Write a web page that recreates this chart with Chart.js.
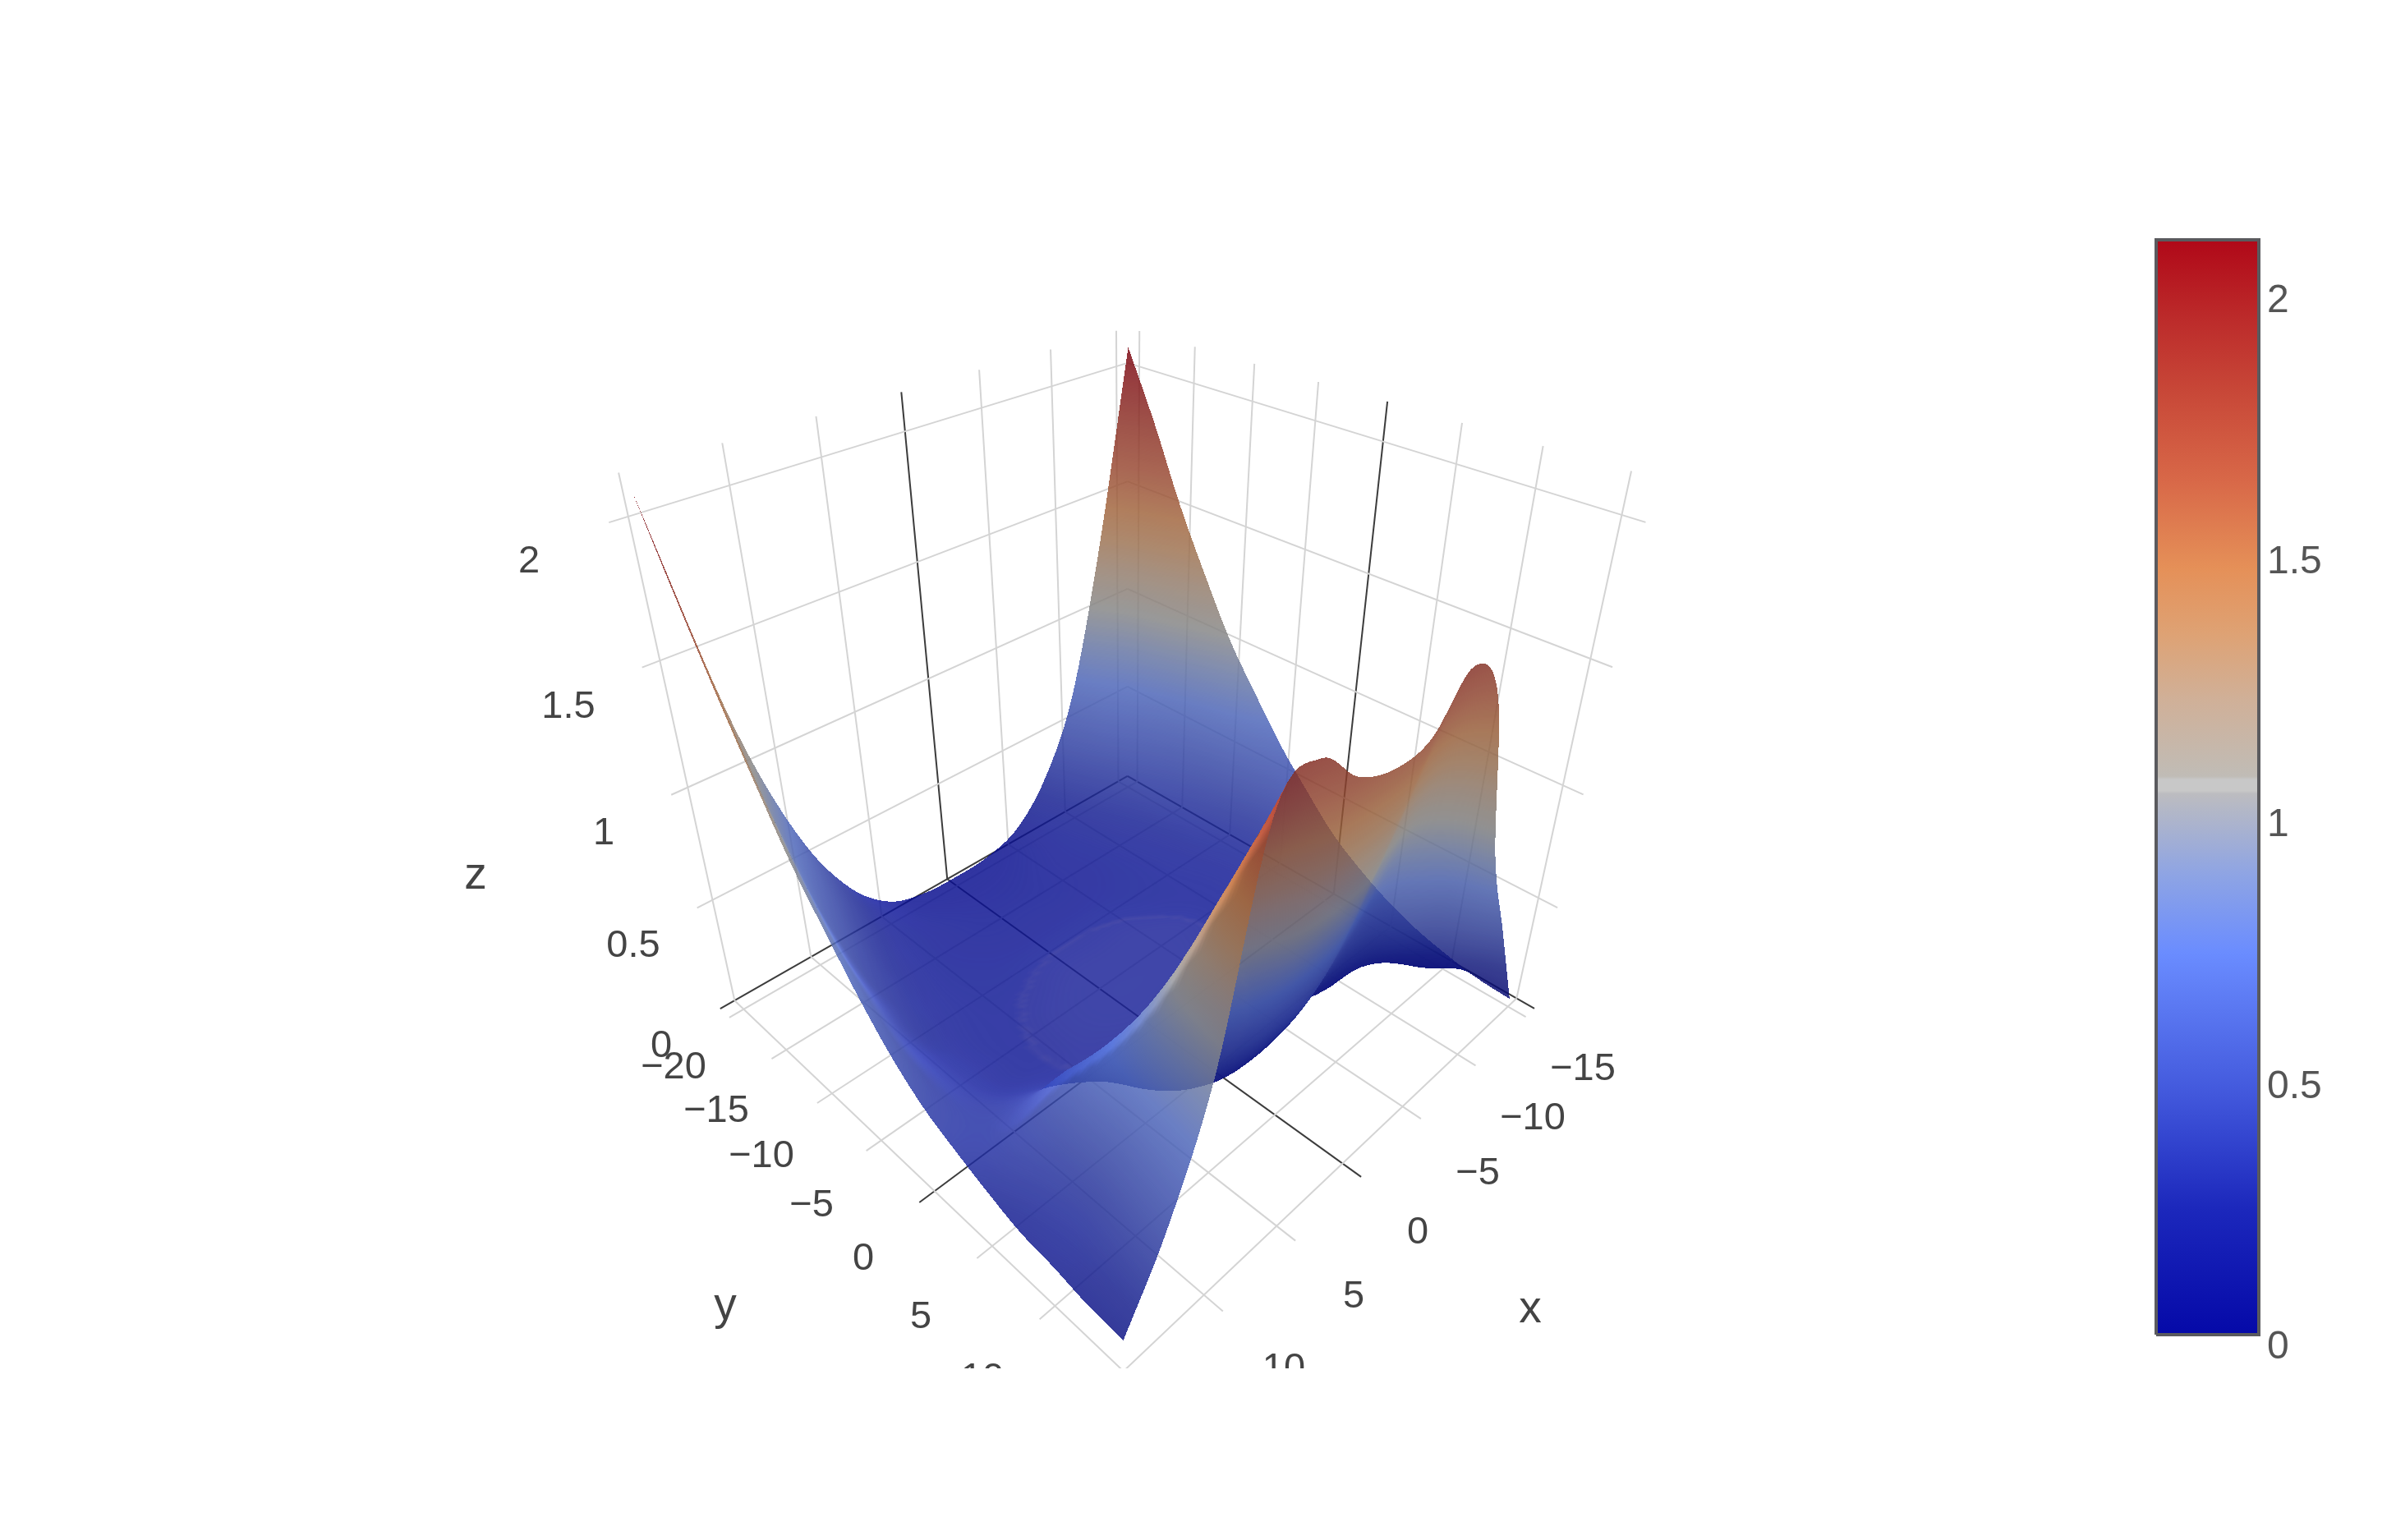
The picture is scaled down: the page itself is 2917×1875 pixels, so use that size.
<!DOCTYPE html>
<html><head><meta charset="utf-8">
<style>html,body{margin:0;padding:0;background:#fff}canvas{display:block}</style>
<script src="https://cdn.jsdelivr.net/npm/chart.js@4/dist/chart.umd.min.js"></script>
</head><body><canvas id="c" width="2917" height="1666"></canvas>
<script>
const xValues=[-15,-12.5,-10,-7.5,-5,-2.5,0,2.5,5,7.5,10,12.5,15];
const yValues=[-20,-17.5,-15,-12.5,-10,-7.5,-5,-2.5,0,2.5,5,7.5,10,12.5,15];
const zRows=[
[2.09,1.28,.64,.30,.12,.06,.05,.06,.12,.30,.64,1.21,2.10],
[1.82,.95,.50,.24,.13,.09,.08,.09,.13,.24,.50,.95,1.80],
[1.52,.75,.38,.20,.14,.11,.10,.11,.14,.20,.38,.75,1.52],
[1.26,.58,.30,.18,.14,.12,.12,.12,.14,.18,.30,.58,1.26],
[1.02,.46,.25,.17,.15,.14,.14,.14,.15,.17,.25,.46,1.02],
[.83,.38,.22,.17,.16,.17,.17,.17,.16,.17,.22,.38,.83],
[.65,.32,.20,.17,.18,.20,.20,.20,.18,.17,.20,.32,.65],
[.50,.30,.20,.17,.20,.22,.22,.22,.20,.17,.20,.30,.50],
[.36,.28,.22,.16,.18,.21,.22,.22,.20,.18,.21,.30,.39],
[.26,.25,.26,.12,.12,.14,.16,.18,.18,.23,.32,.33,.32],
[.18,.20,.30,.10,.07,.06,.07,.10,.17,.37,.53,.39,.26],
[.12,.12,.16,.18,.22,.16,.14,.18,.33,.69,.69,.38,.21],
[.08,.12,.35,.70,.62,.48,.45,.50,.70,1.03,.78,.37,.19],
[.05,.28,.75,1.20,1.20,1.00,.95,1.00,1.25,1.39,.86,.42,.16],
[.04,.48,.92,1.60,1.78,1.62,1.60,1.66,1.80,1.72,.95,.48,.15]
];
const xTicks=[-15,-10,-5,0,5,10,15];
const yTicks=[-20,-15,-10,-5,0,5,10,15];
const zTicks=[0,0.5,1,1.5,2];
const xTickLabels=['−15','−10','−5','0','5','10'];
const yTickLabels=['−20','−15','−10','−5','0','5','10'];
const zTickLabels=['0','0.5','1','1.5','2'];
const colorbarLabels=['0','0.5','1','1.5','2'];
const colorStops=[[0,'#0509a8'],[.116,'#1c28bc'],[.22,'#4258dc'],[.348,'#6a8cff'],[.42,'#8ea4e4'],[.50,'#bcbcbc'],[.58,'#d0b098'],[.64,'#dea274'],[.70,'#e59058'],[.78,'#d86848'],[.86,'#c84838'],[.93,'#bc2a2a'],[1,'#b00818']];
const colorbarBand=[[.494,'#bcbcc0'],[.497,'#c8c8c8'],[.507,'#c8c8c8'],[.51,'#c0bcb6']];
const crater={x:.7,y:-.8,r:6.5};

/* camera */
const xBox=[-15.9,15.9],yBox=[-21.12,16.31],zBox=[0,2.14];
function project(x,y,z){
  const a=x*.03147,b=-.47+(y+20)*.02671,c=z/2.12-.5;
  const s=a+b,q=a-b,W=1-.293*s-.2568*c;
  return {x:1372.5-559.1*q/W,y:(950+42.5*s-871.5*c)/W,w:W};
}
function seg(p,q,color,width){
  const A=project(...p),B=project(...q);
  return {type:'scatter',showLine:true,pointRadius:0,borderColor:color,borderWidth:width,data:[{x:A.x,y:A.y},{x:B.x,y:B.y}],clip:false};
}
const GRID='rgb(212,212,212)',ZERO='rgb(60,60,60)';
const lineSets=[];
const col=v=>v===0?ZERO:GRID,wid=()=>2;
[false,true].forEach(zero=>{
  xTicks.filter(v=>(v===0)===zero).forEach(v=>{
    lineSets.push(seg([v,yBox[0],0],[v,yBox[1],0],col(v),wid(v)));
    lineSets.push(seg([v,yBox[0],0],[v,yBox[0],zBox[1]],col(v),wid(v)));
  });
  yTicks.filter(v=>(v===0)===zero).forEach(v=>{
    lineSets.push(seg([xBox[0],v,0],[xBox[1],v,0],col(v),wid(v)));
    lineSets.push(seg([xBox[0],v,0],[xBox[0],v,zBox[1]],col(v),wid(v)));
  });
  zTicks.filter(v=>(v===0)===zero).forEach(v=>{
    lineSets.push(seg([xBox[0],yBox[0],v],[xBox[1],yBox[0],v],col(v),wid(v)));
    lineSets.push(seg([xBox[0],yBox[0],v],[xBox[0],yBox[1],v],col(v),wid(v)));
  });
});
/* surface nodes */
const nodeData=[];
yValues.forEach((y,j)=>xValues.forEach((x,i)=>{const P=project(x,y,zRows[j][i]);nodeData.push({x:P.x,y:P.y});}));

const CB={l:2625,r:2750,t:292,b:1625,zmax:2.085};
function cr(p0,p1,p2,p3,t){return .5*((2*p1)+(-p0+p2)*t+(2*p0-5*p1+4*p2-p3)*t*t+(-p0+3*p1-3*p2+p3)*t*t*t);}
function rowAt(j){const n=yValues.length;return j<0?zRows[0].map((v,i)=>2*v-zRows[1][i]):j>=n?zRows[n-1].map((v,i)=>2*v-zRows[n-2][i]):zRows[j];}
function sample(u,v){
  const nx=xValues.length,ny=yValues.length;
  const j=Math.min(ny-2,Math.floor(v)),tv=v-j,i=Math.min(nx-2,Math.floor(u)),tu=u-i;
  const ro=k=>{const r=rowAt(k);const g=m=>m<0?2*r[0]-r[1]:m>=nx?2*r[nx-1]-r[nx-2]:r[m];return cr(g(i-1),g(i),g(i+1),g(i+2),tu);};
  return cr(ro(j-1),ro(j),ro(j+1),ro(j+2),tv);
}
function buildLUT(){
  const cv=document.createElement('canvas');cv.width=1024;cv.height=1;const g=cv.getContext('2d',{willReadFrequently:true});
  const gr=g.createLinearGradient(0,0,1024,0);colorStops.forEach(s=>gr.addColorStop(s[0],s[1]));g.fillStyle=gr;g.fillRect(0,0,1024,1);
  return g.getImageData(0,0,1024,1).data;
}
const clamp=(v,a,b)=>Math.max(a,Math.min(b,v));
const surfacePlugin={id:'surface',
 afterDatasetsDraw(chart){
  const X=chart.scales.x,Y=chart.scales.y,ctx=chart.ctx,lut=buildLUT();
  const N=8,nx=(xValues.length-1)*N+1,ny=(yValues.length-1)*N+1;
  const vx=new Float32Array(nx*ny),vy=new Float32Array(nx*ny),vz=new Float32Array(nx*ny),vw=new Float32Array(nx*ny),vf=new Float32Array(nx*ny),vl=new Float32Array(nx*ny);
  for(let j=0;j<ny;j++)for(let i=0;i<nx;i++){
    const u=i/N,v=j/N,z=Math.max(0.005,sample(u,v)),x=xValues[0]+u*2.5,y=yValues[0]+v*2.5,P=project(x,y,z),k=j*nx+i;
    vx[k]=X.getPixelForValue(P.x);vy[k]=Y.getPixelForValue(P.y);vz[k]=z;vw[k]=P.w;
  }
  for(let j=0;j<ny;j++)for(let i=0;i<nx;i++){
    const k=j*nx+i,i0=Math.max(0,i-1),i1=Math.min(nx-1,i+1),j0=Math.max(0,j-1),j1=Math.min(ny-1,j+1);
    const dzx=(vz[j*nx+i1]-vz[j*nx+i0])/2.12/((i1-i0)/N*2.5*.03147);
    const dzy=(vz[j1*nx+i]-vz[j0*nx+i])/2.12/((j1-j0)/N*2.5*.02671);
    const l=Math.hypot(dzx,dzy,1),nX=-dzx/l,nY=-dzy/l,nZ=1/l;
    const w=clamp((-3*nY-(nX>0?2:1.1)*nX)*2,0,1);
    vf[k]=nZ*.82+(1-nZ)*(.68+.36*w);
    const x=xValues[0]+i/N*2.5,y=yValues[0]+j/N*2.5,r=Math.hypot(x-crater.x,y-crater.y);
    vl[k]=(r<crater.r?6:0)+(Math.abs(r-crater.r)<.2?9:0);
  }
  const cells=[];
  for(let j=0;j<ny-1;j++)for(let i=0;i<nx-1;i++){const k=j*nx+i;cells.push([k,(vw[k]+vw[k+1]+vw[k+nx]+vw[k+nx+1])]);}
  cells.sort((a,b)=>b[1]-a[1]);
  const ox=650,oy=350,W=1350,H=1316,buf=new Float32Array(W*H*4),alpha=.84,zs=1023/CB.zmax;
  function tri(a,b,c){
    const ax=vx[a]-ox,ay=vy[a]-oy,bx=vx[b]-ox,by=vy[b]-oy,cx=vx[c]-ox,cy=vy[c]-oy;
    const area=(bx-ax)*(cy-ay)-(by-ay)*(cx-ax);if(Math.abs(area)<1e-6)return;
    const back=area>0;
    const x0=Math.max(0,Math.floor(Math.min(ax,bx,cx))),x1=Math.min(W-1,Math.ceil(Math.max(ax,bx,cx)));
    const y0=Math.max(0,Math.floor(Math.min(ay,by,cy))),y1=Math.min(H-1,Math.ceil(Math.max(ay,by,cy)));
    for(let py=y0;py<=y1;py++)for(let px=x0;px<=x1;px++){
      const qx=px+.5,qy=py+.5;
      const w0=((cx-bx)*(qy-by)-(cy-by)*(qx-bx))/area,w1=((ax-cx)*(qy-cy)-(ay-cy)*(qx-cx))/area,w2=1-w0-w1;
      if(w0<0||w1<0||w2<0)continue;
      const z=w0*vz[a]+w1*vz[b]+w2*vz[c],f=back?.66:(w0*vf[a]+w1*vf[b]+w2*vf[c]),lift=back?0:(w0*vl[a]+w1*vl[b]+w2*vl[c]);
      const li=Math.max(0,Math.min(1023,Math.round(z*zs)))*4,o=(py*W+px)*4,ia=1-alpha;
      buf[o]=Math.min(255,lut[li]*f+lift)*alpha+buf[o]*ia;buf[o+1]=Math.min(255,lut[li+1]*f+lift*.7)*alpha+buf[o+1]*ia;buf[o+2]=Math.min(255,lut[li+2]*f)*alpha+buf[o+2]*ia;buf[o+3]=alpha+buf[o+3]*ia;
    }
  }
  cells.forEach(c=>{const k=c[0];tri(k,k+1,k+nx);tri(k+1,k+nx+1,k+nx);});
  const cv=document.createElement('canvas');cv.width=W;cv.height=H;const g=cv.getContext('2d'),im=g.createImageData(W,H);
  for(let o=0;o<W*H*4;o+=4){const A=buf[o+3];if(A>0){im.data[o]=buf[o]/A;im.data[o+1]=buf[o+1]/A;im.data[o+2]=buf[o+2]/A;im.data[o+3]=A*255;}}
  g.putImageData(im,0,0);
  ctx.save();ctx.drawImage(cv,ox,oy);ctx.restore();
 },
 afterDraw(chart){
  const ctx=chart.ctx,X=chart.scales.x,Y=chart.scales.y;
  ctx.save();ctx.textAlign='center';ctx.textBaseline='middle';ctx.fillStyle='#444';
  const put=(t,x,y,sz)=>{ctx.font=sz+'px "Liberation Sans"';ctx.fillText(t,X.getPixelForValue(x),Y.getPixelForValue(y)+5);};
  const xPos=[[1927,1297],[1866,1357],[1799,1424],[1726,1496],[1648,1574],[1563,1662]];
  const yPos=[[820,1295],[872,1348],[927,1403],[988,1463],[1051,1528],[1121,1599],[1196,1674]];
  const zPos=[[805,1269],[771,1147],[735,1010],[692,856],[644,679]];
  xTickLabels.forEach((t,i)=>put(t,xPos[i][0],xPos[i][1],47));
  yTickLabels.forEach((t,i)=>put(t,yPos[i][0],yPos[i][1],47));
  zTickLabels.forEach((t,i)=>put(t,zPos[i][0],zPos[i][1],47));
  put('x',1863,1590,55);put('y',883,1586,55);put('z',579,1062,55);
  ctx.fillStyle='#555';ctx.textAlign='left';
  const cPos=[1636,1319,1000,680,362];
  colorbarLabels.forEach((t,i)=>put(t,2760,cPos[i],48));
  ctx.restore();
 }};
const bar=[[CB.l,CB.b],[CB.r,CB.b],[CB.r,CB.t],[CB.l,CB.t],[CB.l,CB.b]].map(p=>({x:p[0],y:p[1]}));
new Chart(document.getElementById('c'),{type:'scatter',
 data:{datasets:[...lineSets,
  {type:'scatter',label:'z',data:nodeData,pointRadius:0,showLine:false,clip:false},
  {type:'scatter',label:'colorbar',data:bar,showLine:true,pointRadius:0,borderColor:'#5a5a5e',borderWidth:4,fill:'shape',tension:0,clip:false,
   backgroundColor(ctx){const g=ctx.chart.ctx.createLinearGradient(0,CB.b,0,CB.t);colorStops.filter(s=>s[0]!==.5).concat(colorbarBand).forEach(s=>g.addColorStop(s[0],s[1]));return g;}}
 ]},
 options:{responsive:false,animation:false,devicePixelRatio:1,layout:{padding:0},
  plugins:{legend:{display:false},tooltip:{enabled:false}},events:[],
  scales:{x:{type:'linear',min:0,max:2917,display:false},y:{type:'linear',min:0,max:1666,reverse:true,display:false}}},
 plugins:[surfacePlugin]});
</script></body></html>
